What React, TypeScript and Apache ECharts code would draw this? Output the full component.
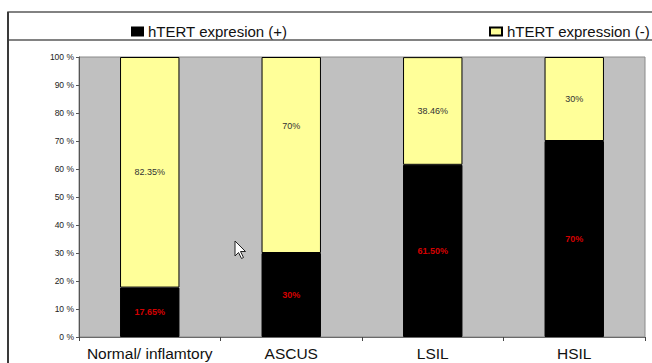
import React, { useEffect, useRef } from "react";
import * as echarts from "echarts";

// Share of hTERT expression by cytology category (percent of cases)
const categories = ["Normal/ inflamtory", "ASCUS", "LSIL", "HSIL"];
const positiveValues = [17.65, 30, 61.5, 70];
const negativeValues = [82.35, 70, 38.46, 30];
const seriesNames = ["hTERT expresion (+)", "hTERT expression (-)"];
const yTicks = [0, 10, 20, 30, 40, 50, 60, 70, 80, 90, 100];

const fmt = (v: number) => (Number.isInteger(v) ? String(v) : v.toFixed(2)) + "%";

const FONT = "Liberation Sans, Arial, sans-serif";

export default function App() {
  const ref = useRef<HTMLDivElement>(null);

  useEffect(() => {
    if (!ref.current) return;
    const chart = echarts.init(ref.current, undefined, { renderer: "svg" });

    const option: echarts.EChartsCoreOption = {
      animation: false,
      backgroundColor: "#ffffff",
      textStyle: { fontFamily: FONT },
      graphic: [
        // legend strip and chart frame
        {
          type: "rect",
          shape: { x: 8, y: 12, width: 700, height: 28 },
          style: { fill: "none", stroke: "#5a5a5a", lineWidth: 1.5 },
          z: 10,
        },
        {
          type: "line",
          shape: { x1: 8, y1: 12, x2: 8, y2: 370 },
          style: { stroke: "#3a3a3a", lineWidth: 2 },
          z: 10,
        },
        // mouse pointer
        {
          type: "polygon",
          shape: {
            points: [
              [235, 241],
              [235, 256],
              [238.5, 252.5],
              [241.5, 258.5],
              [243.5, 257.5],
              [240.5, 251.5],
              [245.5, 251.5],
            ],
          },
          style: { fill: "#ffffff", stroke: "#222", lineWidth: 1 },
          z: 20,
        },
      ],
      legend: [
        {
          data: [{ name: seriesNames[0], icon: "rect" }],
          left: 126,
          top: 19,
          itemWidth: 11,
          itemHeight: 8,
          itemGap: 5,
          textStyle: { fontSize: 15, color: "#111", fontFamily: FONT },
        },
        {
          data: [{ name: seriesNames[1], icon: "rect" }],
          left: 484,
          top: 19,
          itemWidth: 12,
          itemHeight: 8,
          itemGap: 5,
          textStyle: { fontSize: 15, color: "#111", fontFamily: FONT },
        },
      ],
      grid: {
        left: 79,
        right: 7,
        top: 57,
        bottom: 26,
        show: true,
        backgroundColor: "#c0c0c0",
        borderColor: "#8a8a8a",
        borderWidth: 1,
      },
      xAxis: {
        type: "category",
        data: categories,
        axisLine: { show: true, lineStyle: { color: "#6a6a6a", width: 1 } },
        axisTick: { show: true, length: 4, lineStyle: { color: "#444" } },
        axisLabel: {
          interval: 0,
          fontSize: 15.5,
          color: "#111",
          margin: 8,
          fontFamily: FONT,
        },
      },
      yAxis: {
        type: "value",
        min: yTicks[0],
        max: yTicks[yTicks.length - 1],
        interval: 10,
        axisLine: { show: true, lineStyle: { color: "#555", width: 1 } },
        axisTick: { show: true, length: 3, lineStyle: { color: "#555" } },
        splitLine: { show: false },
        axisLabel: {
          fontSize: 8.5,
          color: "#222",
          margin: 5,
          formatter: (v: number) => `${v} %`,
          fontFamily: FONT,
        },
      },
      series: [
        {
          name: seriesNames[0],
          type: "bar",
          stack: "total",
          barWidth: "42%",
          data: positiveValues,
          itemStyle: { color: "#000000", borderColor: "#000000", borderWidth: 1 },
          label: {
            show: true,
            position: "inside",
            color: "#d40000",
            fontSize: 9,
            fontWeight: "bold",
            fontFamily: FONT,
            formatter: (p: any) => fmt(p.value),
          },
        },
        {
          name: seriesNames[1],
          type: "bar",
          stack: "total",
          barWidth: "42%",
          data: negativeValues.map((v, i) =>
            i === 1 ? { value: v, label: { offset: [0, -29] } } : v
          ),
          itemStyle: { color: "#ffff99", borderColor: "#000000", borderWidth: 1 },
          label: {
            show: true,
            position: "inside",
            color: "#333",
            fontSize: 9,
            fontFamily: FONT,
            formatter: (p: any) => fmt(p.value),
          },
        },
      ],
    };

    chart.setOption(option);
    return () => chart.dispose();
  }, []);

  return (
    <div
      ref={ref}
      style={{ position: "fixed", left: 0, top: 0, width: 652, height: 363 }}
    />
  );
}
